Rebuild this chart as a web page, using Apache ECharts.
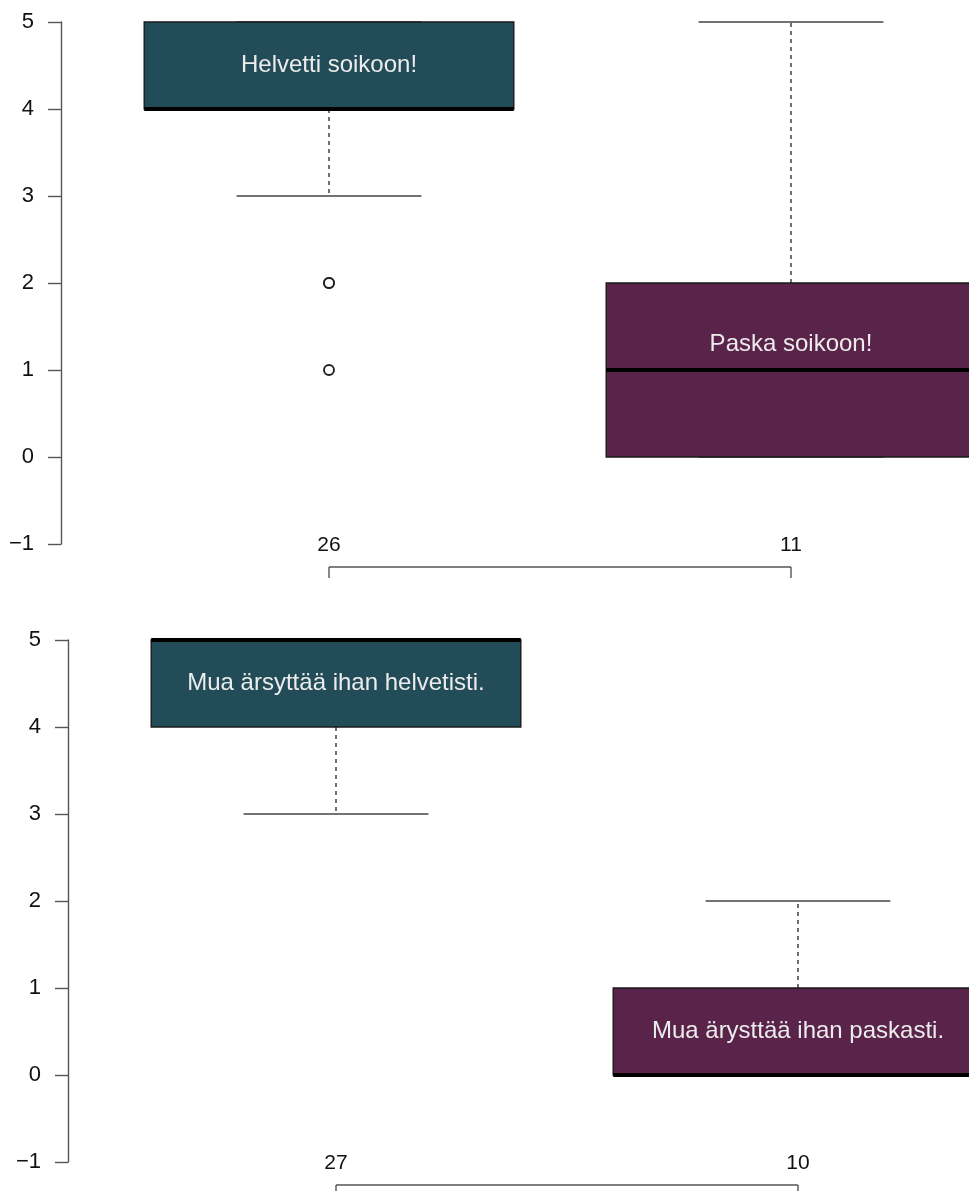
<!DOCTYPE html>
<html>
<head>
<meta charset="utf-8">
<script src="https://cdn.jsdelivr.net/npm/echarts@6/dist/echarts.min.js"></script>
<style>
html,body{margin:0;padding:0;background:#fff;}
#chart{width:969px;height:1191px;}
</style>
</head>
<body>
<div id="chart"></div>
<script>
// ---------- data ----------
const yTickLabels = ['\u22121', '0', '1', '2', '3', '4', '5'];
const groupPositions = [1, 2];

// panel 1: [min, q1, median, q3, max]
const p1Labels = ['Helvetti soikoon!', 'Paska soikoon!'];
const p1Stats = [[3, 4, 4, 5, 5], [0, 0, 1, 2, 5]];
const p1Outliers = [[1, 2], [1, 2], [1, 1]];
const p1Counts = [26, 11];
const p1LabelY = [4.5, 1.3];

// panel 2
const p2Labels = ['Mua ärsyttää ihan helvetisti.', 'Mua ärysttää ihan paskasti.'];
const p2Stats = [[3, 4, 5, 5, 5], [0, 0, 0, 1, 2]];
const p2Outliers = [];
const p2Counts = [27, 10];
const p2LabelY = [4.5, 0.5];

// ---------- styles ----------
const boxColors = ['#234c59', '#5a2349'];
const FONT = 'Liberation Sans';
const BOX_HALF = 0.4, CAP_HALF = 0.2;

function boxData(stats, labelY) {
  return stats.map((s, i) => [groupPositions[i], s[0], s[1], s[2], s[3], s[4], labelY[i]]);
}

function makeBoxRender(labels) {
  return function (params, api) {
    const i = params.dataIndex;
    const x = api.value(0);
    const mn = api.value(1), q1 = api.value(2), md = api.value(3), q3 = api.value(4), mx = api.value(5), ly = api.value(6);
    const c = (a, b) => api.coord([a, b]);
    const ch = [];
    const dashStyle = { stroke: '#333', lineWidth: 1.4, lineDash: [4, 4] };
    const solid = { stroke: '#444', lineWidth: 1.4 };
    if (mx > q3) {
      const a = c(x, q3), b = c(x, mx);
      ch.push({ type: 'line', shape: { x1: a[0], y1: a[1], x2: b[0], y2: b[1] }, style: dashStyle });
    }
    if (mn < q1) {
      const a = c(x, q1), b = c(x, mn);
      ch.push({ type: 'line', shape: { x1: a[0], y1: a[1], x2: b[0], y2: b[1] }, style: dashStyle });
    }
    [mx, mn].forEach(v => {
      const a = c(x - CAP_HALF, v), b = c(x + CAP_HALF, v);
      ch.push({ type: 'line', shape: { x1: a[0], y1: a[1], x2: b[0], y2: b[1] }, style: solid });
    });
    const tl = c(x - BOX_HALF, q3), br = c(x + BOX_HALF, q1);
    ch.push({ type: 'rect', shape: { x: tl[0], y: tl[1], width: br[0] - tl[0], height: br[1] - tl[1] },
      style: { fill: boxColors[i], stroke: '#1a1a1a', lineWidth: 1.4 } });
    const m1 = c(x - BOX_HALF, md), m2 = c(x + BOX_HALF, md);
    ch.push({ type: 'line', shape: { x1: m1[0], y1: m1[1], x2: m2[0], y2: m2[1] }, style: { stroke: '#000', lineWidth: 4 } });
    const t = c(x, ly);
    ch.push({ type: 'text', style: { x: t[0], y: t[1], text: labels[i], fill: '#ececec',
      fontSize: 24, fontFamily: FONT, align: 'center', verticalAlign: 'middle' } });
    return { type: 'group', children: ch };
  };
}

function makeBracketRender(n) {
  return function (params, api) {
    const x = api.value(0);
    const base = api.coord([x, -1]);
    const lineY = base[1] + 23;
    const ch = [
      { type: 'text', style: { x: base[0], y: base[1] + 1, text: String(api.value(1)), fill: '#111',
        fontSize: 21, fontFamily: FONT, align: 'center', verticalAlign: 'middle' } },
      { type: 'line', shape: { x1: base[0], y1: lineY, x2: base[0], y2: lineY + 11 }, style: { stroke: '#555', lineWidth: 1.4 } }
    ];
    if (params.dataIndex === 0) {
      const end = api.coord([groupPositions[n - 1], -1]);
      ch.push({ type: 'line', shape: { x1: base[0], y1: lineY, x2: end[0], y2: lineY }, style: { stroke: '#555', lineWidth: 1.4 } });
    }
    return { type: 'group', children: ch };
  };
}

const yAxisCommon = {
  type: 'value', min: -1, max: 5, interval: 1,
  axisLine: { show: true, lineStyle: { color: '#555', width: 1.4 } },
  axisTick: { show: true, length: 13, lineStyle: { color: '#555', width: 1.4 } },
  axisLabel: { show: true, fontSize: 22, color: '#111', fontFamily: FONT, margin: 27,
    formatter: v => yTickLabels[Math.round(v) + 1] },
  splitLine: { show: false }
};

const chart = echarts.init(document.getElementById('chart'), null, { renderer: 'canvas' });
chart.setOption({
  backgroundColor: '#fff',
  animation: false,
  grid: [
    { left: 61, top: 22, width: 908, height: 522, containLabel: false },
    { left: 68, top: 640, width: 901, height: 522, containLabel: false }
  ],
  xAxis: [
    { gridIndex: 0, type: 'value', min: 1 - 268 / 462, max: 1 - 268 / 462 + 908 / 462, show: false },
    { gridIndex: 1, type: 'value', min: 1 - 268 / 462, max: 1 - 268 / 462 + 901 / 462, show: false }
  ],
  yAxis: [
    Object.assign({ gridIndex: 0 }, yAxisCommon),
    Object.assign({ gridIndex: 1 }, yAxisCommon)
  ],
  series: [
    { type: 'custom', xAxisIndex: 0, yAxisIndex: 0, clip: false, silent: true,
      renderItem: makeBoxRender(p1Labels), data: boxData(p1Stats, p1LabelY), encode: { x: 0, y: [1, 2, 3, 4, 5] } },
    { type: 'scatter', xAxisIndex: 0, yAxisIndex: 0, silent: true, symbol: 'circle', symbolSize: 10,
      itemStyle: { color: '#fff', borderColor: '#222', borderWidth: 1.9, opacity: 1 }, data: p1Outliers },
    { type: 'custom', xAxisIndex: 0, yAxisIndex: 0, clip: false, silent: true,
      renderItem: makeBracketRender(p1Counts.length), data: p1Counts.map((v, i) => [groupPositions[i], v]), encode: { x: 0, y: 1 } },
    { type: 'custom', xAxisIndex: 1, yAxisIndex: 1, clip: false, silent: true,
      renderItem: makeBoxRender(p2Labels), data: boxData(p2Stats, p2LabelY), encode: { x: 0, y: [1, 2, 3, 4, 5] } },
    { type: 'scatter', xAxisIndex: 1, yAxisIndex: 1, silent: true, symbol: 'circle', symbolSize: 10,
      itemStyle: { color: '#fff', borderColor: '#222', borderWidth: 1.9, opacity: 1 }, data: p2Outliers },
    { type: 'custom', xAxisIndex: 1, yAxisIndex: 1, clip: false, silent: true,
      renderItem: makeBracketRender(p2Counts.length), data: p2Counts.map((v, i) => [groupPositions[i], v]), encode: { x: 0, y: 1 } }
  ]
});
</script>
</body>
</html>
